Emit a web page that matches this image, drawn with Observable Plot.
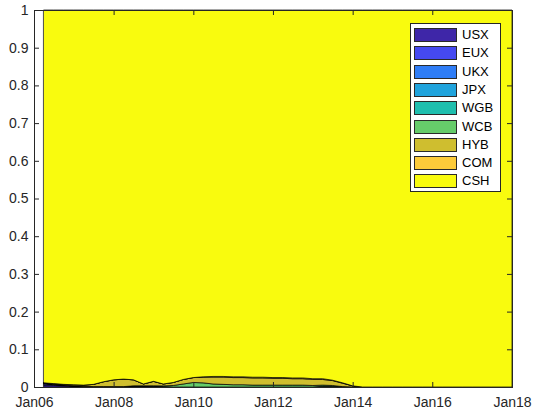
<!DOCTYPE html>
<html>
<head>
<meta charset="utf-8">
<script src="https://cdn.jsdelivr.net/npm/d3@7"></script>
<script src="https://cdn.jsdelivr.net/npm/@observablehq/plot@0.6"></script>
<style>
  body { margin: 0; background: #fff; font-family: "Liberation Sans", Arial, sans-serif; }
  #wrap { position: relative; width: 533px; height: 416px; }
  #legend { position: absolute; left: 410px; top: 23px; width: 91px; height: 169px;
            background: #fff; border: 1px solid #262626; box-sizing: border-box; }
  .row { position: absolute; left: 3px; height: 14px; display: flex; align-items: center; }
  .sw { width: 43px; height: 14px; border: 1px solid #2a2a2a; box-sizing: border-box; }
  .lb { margin-left: 5px; font-size: 13px; color: #000; line-height: 14px; }
</style>
</head>
<body>
<div id="wrap"></div>
<script>
// Portfolio weights by asset class, quarterly, stacked to 1
const seriesNames = ["USX", "EUX", "UKX", "JPX", "WGB", "WCB", "HYB", "COM", "CSH"];
const seriesColors = ["#3e26a8", "#4549f0", "#2f7df6", "#1fa3dc", "#1fbfae", "#66cc6a", "#cfbe2f", "#fccb3a", "#f9fb0e"];

const dates = [
  "2006-04-01", "2006-07-01", "2006-10-01",
  "2007-01-01", "2007-04-01", "2007-07-01", "2007-10-01",
  "2008-01-01", "2008-04-01", "2008-07-01", "2008-10-01",
  "2009-01-01", "2009-04-01", "2009-07-01", "2009-10-01",
  "2010-01-01", "2010-04-01", "2010-07-01", "2010-10-01",
  "2011-01-01", "2011-04-01", "2011-07-01", "2011-10-01",
  "2012-01-01", "2012-04-01", "2012-07-01", "2012-10-01",
  "2013-01-01", "2013-04-01", "2013-07-01", "2013-10-01",
  "2014-01-01", "2014-04-01", "2014-07-01", "2014-10-01",
  "2015-01-01", "2015-04-01", "2015-07-01", "2015-10-01",
  "2016-01-01", "2016-04-01", "2016-07-01", "2016-10-01",
  "2017-01-01", "2017-04-01", "2017-07-01", "2017-10-01",
  "2018-01-01"
];

const USX = [0.005, 0.004, 0.003, 0.002, 0.001, 0.001, 0.001, 0.001, 0.001, 0.001, 0.001, 0,
             0, 0, 0, 0, 0, 0, 0, 0, 0, 0, 0, 0, 0, 0, 0, 0, 0, 0, 0, 0,
             0, 0, 0, 0, 0, 0, 0, 0, 0, 0, 0, 0, 0, 0, 0, 0];
const EUX = [0.003, 0.002, 0.002, 0.001, 0.001, 0, 0, 0, 0, 0, 0, 0,
             0, 0, 0, 0, 0, 0, 0, 0, 0, 0, 0, 0, 0, 0, 0, 0, 0, 0, 0, 0,
             0, 0, 0, 0, 0, 0, 0, 0, 0, 0, 0, 0, 0, 0, 0, 0];
const UKX = [0.002, 0.001, 0, 0, 0, 0, 0, 0, 0, 0, 0, 0,
             0, 0, 0, 0, 0, 0, 0, 0, 0, 0, 0, 0, 0, 0, 0, 0, 0, 0, 0, 0,
             0, 0, 0, 0, 0, 0, 0, 0, 0, 0, 0, 0, 0, 0, 0, 0];
const JPX = [0, 0, 0, 0, 0, 0, 0, 0, 0, 0.002, 0.002, 0.002,
             0, 0, 0, 0, 0, 0, 0, 0, 0, 0, 0, 0, 0, 0, 0, 0, 0.001, 0.001, 0, 0,
             0, 0, 0, 0, 0, 0, 0, 0, 0, 0, 0, 0, 0, 0, 0, 0];
const WGB = [0, 0, 0, 0, 0, 0, 0, 0, 0, 0, 0, 0.001,
             0.001, 0, 0, 0, 0, 0, 0, 0, 0, 0, 0, 0, 0, 0, 0, 0, 0.001, 0.001, 0, 0,
             0, 0, 0, 0, 0, 0, 0, 0, 0, 0, 0, 0, 0, 0, 0, 0];
const WCB = [0, 0, 0, 0, 0, 0, 0, 0, 0, 0, 0, 0,
             0.002, 0.004, 0.008, 0.012, 0.011, 0.008, 0.007, 0.006, 0.006, 0.005, 0.005, 0.005,
             0.005, 0.005, 0.005, 0.004, 0.003, 0.002, 0.001, 0,
             0, 0, 0, 0, 0, 0, 0, 0, 0, 0, 0, 0, 0, 0, 0, 0];
const HYB = [0.001, 0.002, 0.002, 0.003, 0.003, 0.006, 0.013, 0.018, 0.020, 0.016, 0.005, 0.012,
             0.005, 0.008, 0.012, 0.013, 0.015, 0.018, 0.019, 0.019, 0.019, 0.019, 0.019, 0.018,
             0.018, 0.017, 0.017, 0.016, 0.015, 0.013, 0.009, 0.003,
             0, 0, 0, 0, 0, 0, 0, 0, 0, 0, 0, 0, 0, 0, 0, 0];
const COM = [0, 0, 0, 0, 0, 0, 0, 0, 0, 0, 0, 0,
             0, 0, 0, 0, 0.001, 0.002, 0.002, 0.002, 0.002, 0.002, 0.002, 0.002,
             0.002, 0.002, 0.002, 0.002, 0.002, 0.001, 0.001, 0,
             0, 0, 0, 0, 0, 0, 0, 0, 0, 0, 0, 0, 0, 0, 0, 0];
const CSH = [0.989, 0.991, 0.993, 0.994, 0.995, 0.993, 0.986, 0.981, 0.979, 0.981, 0.992, 0.985,
             0.992, 0.988, 0.980, 0.975, 0.973, 0.972, 0.972, 0.973, 0.973, 0.974, 0.974, 0.975,
             0.975, 0.976, 0.976, 0.978, 0.978, 0.982, 0.989, 0.997,
             1, 1, 1, 1, 1, 1, 1, 1, 1, 1, 1, 1, 1, 1, 1, 1];

const xTicks = ["2006-01-01", "2008-01-01", "2010-01-01", "2012-01-01", "2014-01-01", "2016-01-01", "2018-01-01"];
const yTicks = [0, 0.1, 0.2, 0.3, 0.4, 0.5, 0.6, 0.7, 0.8, 0.9, 1];

const seriesValues = {USX, EUX, UKX, JPX, WGB, WCB, HYB, COM, CSH};
const parseDate = d3.utcParse("%Y-%m-%d");
const rows = seriesNames.flatMap(name =>
  dates.map((d, i) => ({date: parseDate(d), series: name, value: seriesValues[name][i]}))
);
const xTickDates = xTicks.map(parseDate);

const W = 533, H = 416;
const mTop = 10, mBottom = 29, mLeft = 34, mRight = 21;
const plotW = W - mLeft - mRight, plotH = H - mTop - mBottom;
const tickLen = 5;
const ink = "#262626";

const chart = Plot.plot({
  width: W,
  height: H,
  marginTop: mTop,
  marginBottom: mBottom,
  marginLeft: mLeft,
  marginRight: mRight,
  style: {fontFamily: "'Liberation Sans', Arial, sans-serif", fontSize: "14px", color: ink, background: "#fff"},
  x: {type: "utc", domain: [parseDate("2006-01-01"), parseDate("2018-01-01")]},
  y: {domain: [0, 1]},
  color: {domain: seriesNames, range: seriesColors},
  marks: [
    Plot.areaY(rows, {
      x: "date", y: "value", fill: "series", z: "series", order: seriesNames,
      stroke: "#000", strokeWidth: 0.7, strokeLinejoin: "round"
    }),
    // inward ticks on all four sides
    Plot.tickX(xTickDates, {x: d => d, insetTop: plotH - tickLen, stroke: ink}),
    Plot.tickX(xTickDates, {x: d => d, insetBottom: plotH - tickLen, stroke: ink}),
    Plot.tickY(yTicks, {y: d => d, insetRight: plotW - tickLen, stroke: ink}),
    Plot.tickY(yTicks, {y: d => d, insetLeft: plotW - tickLen, stroke: ink}),
    Plot.axisX(xTickDates, {tickSize: 0, tickPadding: 10, tickFormat: d3.utcFormat("%b%y"), label: null, fontSize: 14, fill: ink}),
    Plot.axisY(yTicks, {tickSize: 0, tickPadding: 6, tickFormat: d => String(d), label: null, fontSize: 14, fill: ink}),
    Plot.frame({stroke: ink})
  ]
});

const wrap = document.getElementById("wrap");
wrap.appendChild(chart);

// legend box, one row per series
const legend = document.createElement("div");
legend.id = "legend";
seriesNames.forEach((name, i) => {
  const row = document.createElement("div");
  row.className = "row";
  row.style.top = (4 + i * 18.3) + "px";
  const sw = document.createElement("div");
  sw.className = "sw";
  sw.style.background = seriesColors[i];
  const lb = document.createElement("span");
  lb.className = "lb";
  lb.textContent = name;
  row.appendChild(sw);
  row.appendChild(lb);
  legend.appendChild(row);
});
wrap.appendChild(legend);
</script>
</body>
</html>
